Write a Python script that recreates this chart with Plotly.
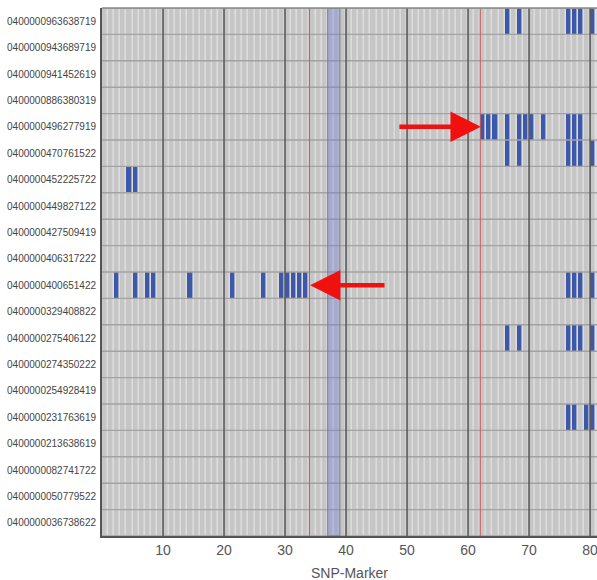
import plotly.graph_objects as go

# Animals (top to bottom as drawn)
animals = [
    "0400000963638719", "0400000943689719", "0400000941452619", "0400000886380319",
    "0400000496277919", "0400000470761522", "0400000452225722", "0400000449827122",
    "0400000427509419", "0400000406317222", "0400000400651422", "0400000329408822",
    "0400000275406122", "0400000274350222", "0400000254928419", "0400000231763619",
    "0400000213638619", "0400000082741722", "0400000050779522", "0400000036738622",
]

# SNP markers 1..81
n_markers = 81
markers = list(range(1, n_markers + 1))

# Markers marked (blue) per animal
blue_markers = {
    "0400000963638719": [67, 69, 77, 78, 79, 81],
    "0400000496277919": [63, 64, 65, 67, 69, 70, 71, 73, 77, 78, 79],
    "0400000470761522": [67, 69, 77, 78, 79, 81],
    "0400000452225722": [5, 6],
    "0400000400651422": [3, 6, 8, 9, 15, 22, 27, 30, 31, 32, 33, 34, 77, 78, 79, 81],
    "0400000275406122": [67, 69, 77, 78, 79, 81],
    "0400000231763619": [77, 78, 80, 81],
}

tick_vals = [10, 20, 30, 40, 50, 60, 70, 80]
red_lines = [34, 62]
band = [37, 39]

# Arrows: (marker position of head, animal, tail offset px)
arrows = [(62.1, "0400000496277919", -83), (34.1, "0400000400651422", 76)]

n_rows = len(animals)
row_index = {a: n_rows - 1 - i for i, a in enumerate(animals)}

z = [[0] * n_markers for _ in range(n_rows)]
for a, ms in blue_markers.items():
    for m in ms:
        z[row_index[a]][m - 1] = 1

x_centers = [m - 0.5 for m in markers]
y_idx = list(range(n_rows))

fig = go.Figure()
fig.add_trace(go.Heatmap(
    z=z, x=x_centers, y=y_idx,
    colorscale=[[0, "#c6c6c6"], [0.5, "#c6c6c6"], [0.5, "#3d58a8"], [1, "#3d58a8"]],
    zmin=0, zmax=1, showscale=False, xgap=1.6, ygap=0, hoverinfo="skip",
))

shapes = []
# horizontal row separators
for k in range(n_rows + 1):
    shapes.append(dict(type="line", xref="x", yref="y", x0=0, x1=n_markers + 1,
                       y0=k - 0.5, y1=k - 0.5, line=dict(color="#a2a2a2", width=1.4), layer="above"))
# highlighted band
shapes.append(dict(type="rect", xref="x", yref="y", x0=band[0], x1=band[1], y0=-0.5, y1=n_rows - 0.5,
                   fillcolor="rgba(100,115,215,0.32)", line=dict(color="#7a7a8a", width=1), layer="above"))
# dark vertical lines
for v in tick_vals:
    shapes.append(dict(type="line", xref="x", yref="y", x0=v, x1=v, y0=-0.5, y1=n_rows - 0.5,
                       line=dict(color="#5a5a5a", width=1.6), layer="above"))
# red vertical lines
for v in red_lines:
    shapes.append(dict(type="line", xref="x", yref="y", x0=v, x1=v, y0=-0.5, y1=n_rows - 0.5,
                       line=dict(color="#cc5a5a", width=1.1), layer="above"))

annotations = []
for hx, a, off in arrows:
    annotations.append(dict(x=hx, y=row_index[a], xref="x", yref="y", ax=off, ay=0,
                            axref="pixel", ayref="pixel", text="", showarrow=True,
                            arrowhead=2, arrowsize=1.35, arrowwidth=4.5, arrowcolor="#f01010"))
annotations.append(dict(x=0.5, y=0, xref="paper", yref="paper", yshift=-27, yanchor="top",
                        text="SNP-Marker", showarrow=False,
                        font=dict(family="Liberation Sans, Arial", size=14, color="#555555")))

fig.update_layout(
    width=597, height=580,
    margin=dict(l=102, r=0, t=8, b=44),
    paper_bgcolor="white", plot_bgcolor="#dcdcdc",
    shapes=shapes, annotations=annotations,
    xaxis=dict(range=[0, 81.14], tickvals=tick_vals, ticks="", showgrid=False, zeroline=False,
               showline=True, linecolor="#555555", linewidth=2, mirror=False,
               ticklabeloverflow="allow",
               tickfont=dict(family="Liberation Sans, Arial", size=14, color="#555555")),
    yaxis=dict(range=[-0.5, n_rows - 0.5], tickvals=y_idx, ticktext=[animals[n_rows - 1 - i] for i in y_idx],
               ticks="", showgrid=False, zeroline=False, showline=True, linecolor="#555555",
               linewidth=2, ticklabelstandoff=2,
               tickfont=dict(family="Liberation Sans, Arial", size=10, color="#444444")),
)
# top border
fig.add_shape(type="line", xref="paper", yref="paper", x0=0, x1=1, y0=1, y1=1,
              line=dict(color="#8a8a8a", width=1.5))

fig.write_html("out.html")
